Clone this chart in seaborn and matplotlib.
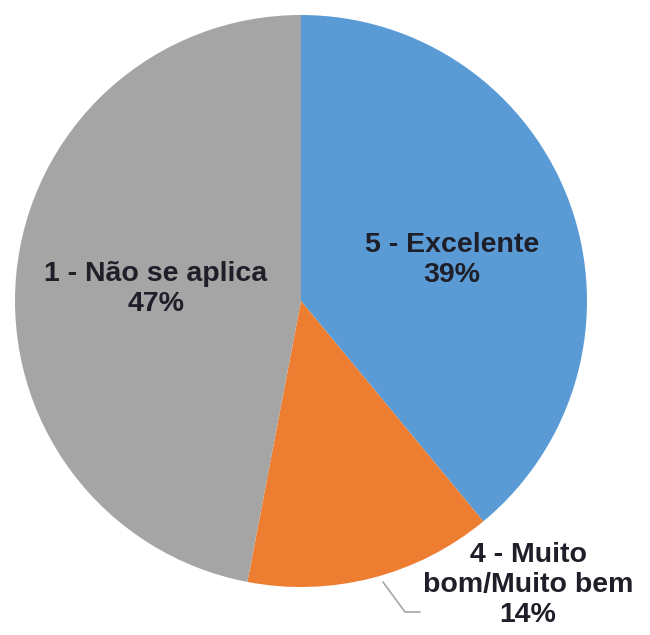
import seaborn as sns
import matplotlib.pyplot as plt

# Chart data
categories = ['5 - Excelente', '4 - Muito\nbom/Muito bem', '1 - Não se aplica']
shares = [39, 14, 47]
colors = ['#5B9BD5', '#ED7D31', '#A5A5A5']

# Label layout (pixel coordinates of the 650x635 canvas, y from top)
label_pos = [(452, 260), (528, 585), (156, 289)]

sns.set_theme(style='white')
plt.rcParams['font.family'] = ['Liberation Sans', 'DejaVu Sans']

W, H = 650, 635
fig = plt.figure(figsize=(W / 100, H / 100), dpi=100)
ax = fig.add_axes([0, 0, 1, 1])

cx, cy, r = 301, 301, 286
ax.pie(shares, colors=colors, startangle=90, counterclock=False,
       center=(cx, H - cy), radius=r,
       wedgeprops={'linewidth': 0})

ax.set_xlim(0, W)
ax.set_ylim(0, H)
ax.set_aspect('equal')
ax.axis('off')

for cat, val, (px, py) in zip(categories, shares, label_pos):
    ax.text(px, H - py, f'{cat}\n{val}%', ha='center', va='center',
            fontsize=20.5, fontweight='bold', color='#1f1f2a', linespacing=1.2)

# Leader line for the small slice
ax.plot([383, 405, 420], [H - 582, H - 612, H - 612], color='#a6a6a6', lw=1.2)

plt.savefig('out.png', dpi=100)
